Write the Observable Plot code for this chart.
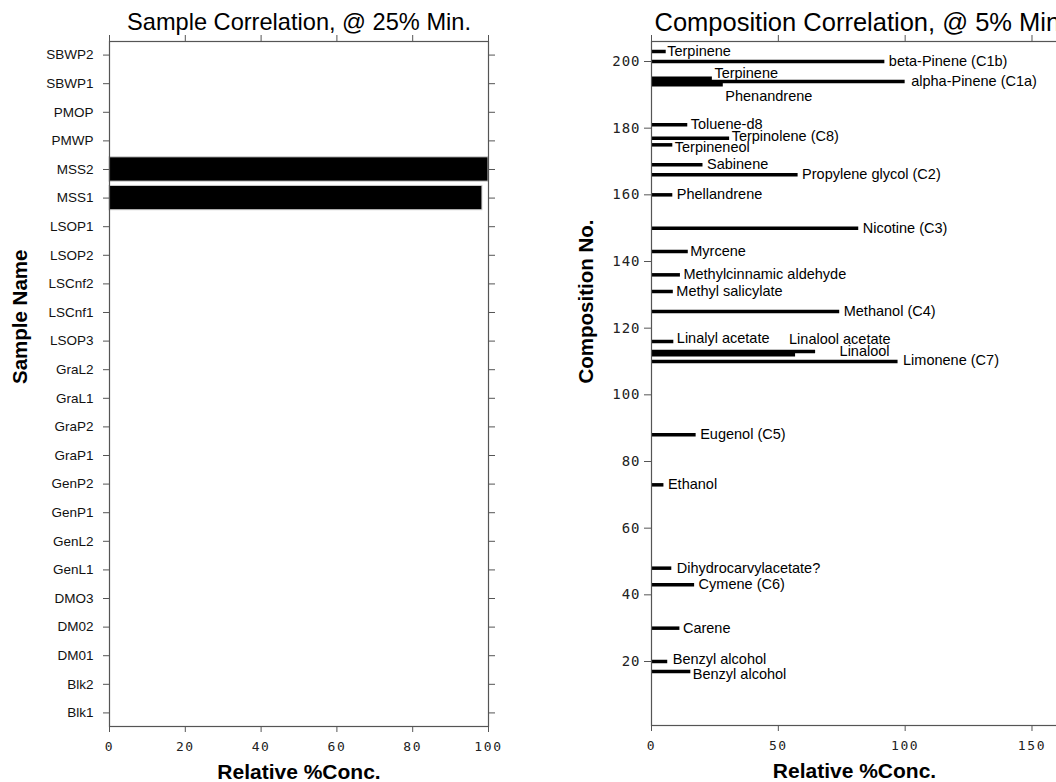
<!DOCTYPE html>
<html><head><meta charset="utf-8">
<script src="https://cdn.jsdelivr.net/npm/d3@7"></script>
<script src="https://cdn.jsdelivr.net/npm/@observablehq/plot@0.6"></script>
<style>
html,body{margin:0;padding:0;background:#fff;overflow:hidden;width:1056px;height:782px;}
#wrap{position:relative;width:1056px;height:782px;overflow:hidden;}
#left{position:absolute;left:0;top:0;width:560px;height:782px}
#right{position:absolute;left:560px;top:0;width:540px;height:782px}
svg{font-family:"Liberation Sans",Arial,sans-serif;overflow:visible;max-width:none !important;height:782px !important}
g[aria-label="x-axis tick label"] text{font-family:"DejaVu Sans Mono",monospace;font-size:13px;letter-spacing:1.6px;fill:#222}
#right g[aria-label="y-axis tick label"] text{font-family:"DejaVu Sans Mono",monospace;font-size:14px;letter-spacing:1px;fill:#222}
#left g[aria-label="y-axis tick label"] text{font-size:13.5px;fill:#111}
</style></head><body><div id="wrap"><div id="left"></div><div id="right"></div></div>
<script>
// ---- Left panel data ----
const sampleNames = ["SBWP2","SBWP1","PMOP","PMWP","MSS2","MSS1","LSOP1","LSOP2","LSCnf2","LSCnf1","LSOP3","GraL2","GraL1","GraP2","GraP1","GenP2","GenP1","GenL2","GenL1","DMO3","DM02","DM01","Blk2","Blk1"];
const sampleValues = [0,0,0,0,100,98.4,0,0,0,0,0,0,0,0,0,0,0,0,0,0,0,0,0,0];
const leftXTicks = [0,20,40,60,80,100];
const leftTitle = "Sample Correlation, @ 25% Min.";
const leftYLabel = "Sample Name";
const xLabel = "Relative %Conc.";

// ---- Right panel data ----
const compNames = ["Terpinene","beta-Pinene (C1b)","Terpinene","alpha-Pinene (C1a)","Phenandrene","Toluene-d8","Terpinolene (C8)","Terpineneol","Sabinene","Propylene glycol (C2)","Phellandrene","Nicotine (C3)","Myrcene","Methylcinnamic aldehyde","Methyl salicylate","Methanol (C4)","Linalyl acetate","Linalool acetate","Linalool","Limonene (C7)","Eugenol (C5)","Ethanol","Dihydrocarvylacetate?","Cymene (C6)","Carene","Benzyl alcohol","Benzyl alcohol"];
const compNos = [203,200,195,194,193,181,177,175,169,166,160,150,143,136,131,125,116,113,112,110,88,73,48,43,30,20,17];
const compValues = [5.8,92,24,100,28.3,14.3,30.8,8.4,20.3,57.8,8.4,81.7,14.5,11.4,8.6,74.2,8.8,64.7,56.8,97.2,17.6,4.9,8,17,11.2,6.4,15.5];
const rightXTicks = [0,50,100,150];
const rightYTicks = [20,40,60,80,100,120,140,160,180,200];
const rightTitle = "Composition Correlation, @ 5% Min.";
const rightYLabel = "Composition No.";

const samples = sampleNames.map((name, i) => ({name, value: sampleValues[i]}));
const comps = compNames.map((name, i) => ({name, no: compNos[i], value: compValues[i]}));

const AX = "#555";

const left = Plot.plot({
  width: 560, height: 782,
  marginLeft: 109, marginRight: 72, marginTop: 41, marginBottom: 56,
  x: {domain: [0, 100]},
  y: {domain: sampleNames, paddingInner: 0.15, paddingOuter: 0.05, round: false},
  marks: [
    Plot.barX(samples.filter(d => d.value > 0), {x: "value", y: "name", fill: "black", stroke: "#cfcfcf", strokeWidth: 1}),
    Plot.frame({stroke: AX, strokeWidth: 1.2}),
    Plot.axisX({anchor: "bottom", ticks: leftXTicks, tickSize: 6, tickPadding: 9, label: null, stroke: AX}),
    Plot.axisX({anchor: "top", ticks: leftXTicks, tickSize: 7, tickFormat: () => "", label: null, stroke: AX}),
    Plot.axisY({anchor: "left", tickSize: 6, tickPadding: 10, label: null, stroke: AX}),
    Plot.axisY({anchor: "right", tickSize: 6, tickFormat: () => "", label: null, stroke: AX}),
    Plot.text([leftTitle], {frameAnchor: "top", lineAnchor: "middle", dy: -19, fontSize: 23.6, fill: "black"}),
    Plot.text([xLabel], {frameAnchor: "bottom", lineAnchor: "middle", dy: 46, fontSize: 21, fontWeight: "bold", fill: "black"}),
    Plot.text([leftYLabel], {frameAnchor: "left", lineAnchor: "middle", dx: -89, rotate: -90, fontSize: 20.5, fontWeight: "bold", fill: "black"})
  ]
});
document.getElementById("left").append(left);

// label nudges (layout only), keyed by composition number
const nudge = {
  203: {dx: 1}, 195: {dx: 2, dy: -5}, 194: {dx: 6}, 193: {dx: 2, dy: 12},
  181: {dx: 3}, 177: {dx: 2, dy: -2}, 175: {dx: 2, dy: 2.5}, 143: {dx: 2},
  136: {dx: 3}, 131: {dx: 3}, 116: {dx: 3, dy: -3},
  113: {dx: 75, dy: -12, anchor: "end"}, 112: {dx: 94, dy: -3, anchor: "end"},
  110: {dx: 5, dy: -1}, 73: {dx: 4}, 48: {dx: 5}, 30: {dx: 3},
  20: {dx: 5, dy: -2}, 17: {dx: 2, dy: 2.5}
};
const labelMarks = comps.map(d => {
  const n = nudge[d.no] || {};
  return Plot.text([d], {x: "value", y: "no", text: "name", textAnchor: n.anchor || "start",
    dx: n.dx ?? 4, dy: n.dy ?? 0, fontSize: 14.5, fill: "black"});
});

const right = Plot.plot({
  width: 540, height: 782,
  marginLeft: 91, marginRight: 33, marginTop: 41, marginBottom: 57,
  x: {domain: [0, 164]},
  y: {domain: [0.8, 206]},
  marks: [
    Plot.ruleY(comps, {y: "no", x1: 0, x2: "value", stroke: "black", strokeWidth: 3.5}),
    ...labelMarks,
    Plot.frame({stroke: AX, strokeWidth: 1.2}),
    Plot.axisX({anchor: "bottom", ticks: rightXTicks, tickSize: 6, tickPadding: 9, label: null, stroke: AX}),
    Plot.axisX({anchor: "top", ticks: rightXTicks, tickSize: 7, tickFormat: () => "", label: null, stroke: AX}),
    Plot.axisY({anchor: "left", ticks: rightYTicks, tickSize: 7, tickPadding: 4, label: null, stroke: AX}),
    Plot.axisY({anchor: "right", ticks: rightYTicks, tickSize: 7, tickFormat: () => "", label: null, stroke: AX}),
    Plot.text([rightTitle], {frameAnchor: "top-left", lineAnchor: "middle", textAnchor: "start", dx: 3, dy: -19, fontSize: 25.5, fill: "black"}),
    Plot.text([xLabel], {frameAnchor: "bottom", lineAnchor: "middle", dx: -5, dy: 46, fontSize: 21, fontWeight: "bold", fill: "black"}),
    Plot.text([rightYLabel], {frameAnchor: "left", lineAnchor: "middle", dx: -65, rotate: -90, fontSize: 20.5, fontWeight: "bold", fill: "black"})
  ]
});
document.getElementById("right").append(right);
</script>
</body></html>
